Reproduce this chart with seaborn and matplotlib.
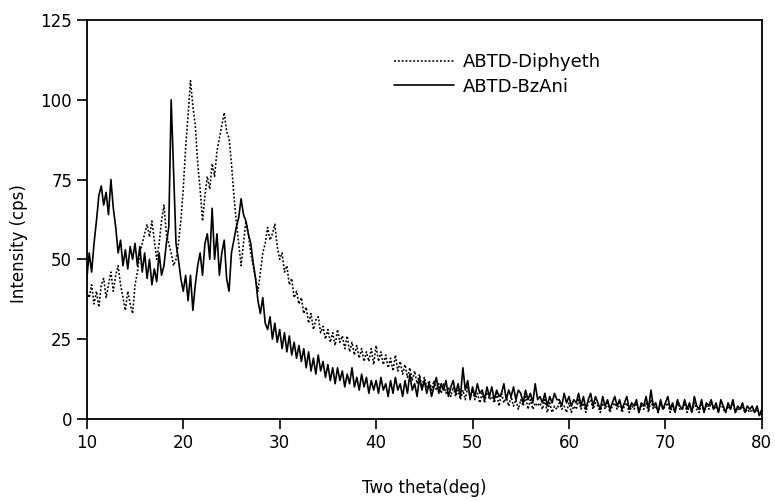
import numpy as np
import pandas as pd
import matplotlib
matplotlib.use("Agg")
import matplotlib.pyplot as plt
import seaborn as sns

# ---- data (step 0.25 deg, 10..80) ----
two_theta_start = 10.0
two_theta_step = 0.25

# ABTD-BzAni (solid), one row per degree: values at .00 .25 .50 .75
bzani_rows = [
    [44, 52, 46, 55], [62, 70, 73, 67], [71, 64, 75, 66], [60, 52, 56, 48],
    [53, 47, 54, 50], [55, 48, 54, 46], [52, 44, 50, 42], [47, 43, 52, 45],
    [48, 55, 60, 100], [78, 55, 50, 44], [40, 45, 37, 45], [34, 42, 48, 52],
    [45, 55, 58, 50], [66, 50, 58, 45], [52, 56, 44, 40], [52, 56, 60, 63],
    [69, 64, 62, 58], [55, 49, 44, 37], [33, 38, 30, 28], [32, 25, 30, 24],
    [28, 22, 27, 21], [26, 20, 24, 19], [23, 18, 22, 16], [21, 15, 19, 14],
    [20, 15, 18, 13], [17, 12, 16, 11], [16, 12, 15, 10], [14, 11, 16, 10],
    [13, 9, 14, 10], [13, 8, 12, 9], [12, 8, 13, 9], [11, 7, 12, 8],
    [13, 9, 11, 7], [12, 8, 14, 9], [11, 7, 13, 9], [12, 8, 11, 7],
    [10, 13, 8, 11], [9, 12, 7, 10], [12, 8, 11, 7], [16, 9, 12, 6],
    [10, 7, 11, 8], [9, 6, 10, 7], [10, 6, 9, 7], [8, 11, 6, 9],
    [7, 10, 6, 9], [8, 5, 9, 6], [8, 5, 11, 6], [7, 5, 8, 4],
    [7, 5, 8, 6], [6, 4, 8, 5], [7, 4, 6, 5], [8, 4, 7, 3],
    [6, 8, 4, 7], [5, 3, 7, 4], [6, 3, 5, 7], [4, 6, 3, 5],
    [7, 3, 5, 4], [6, 2, 5, 4], [7, 3, 9, 4], [5, 2, 6, 3],
    [5, 7, 3, 5], [2, 6, 4, 3], [6, 3, 5, 2], [7, 4, 3, 6],
    [2, 5, 4, 6], [3, 5, 2, 6], [4, 2, 5, 3], [6, 2, 4, 3],
    [5, 2, 4, 3], [4, 2, 4, 1], [3],
]

# ABTD-Diphyeth (dotted)
diphyeth_rows = [
    [40, 38, 42, 36], [40, 35, 42, 44], [38, 42, 46, 40], [45, 48, 42, 38],
    [34, 40, 36, 33], [42, 46, 52, 55], [58, 61, 57, 62], [56, 50, 55, 62],
    [67, 58, 55, 52], [48, 50, 55, 62], [72, 85, 95, 106], [98, 92, 80, 72],
    [62, 70, 76, 72], [80, 76, 84, 88], [92, 96, 90, 88], [80, 70, 62, 55],
    [48, 55, 62, 58], [52, 48, 44, 40], [46, 52, 55, 60], [56, 58, 61, 54],
    [50, 52, 46, 48], [42, 44, 38, 40], [36, 38, 33, 35], [30, 33, 28, 31],
    [32, 27, 29, 25], [28, 24, 27, 23], [28, 24, 26, 22], [26, 21, 24, 20],
    [23, 19, 22, 18], [21, 18, 22, 17], [23, 18, 21, 17], [20, 16, 19, 15],
    [20, 15, 18, 14], [17, 13, 16, 12], [15, 11, 14, 10], [13, 10, 12, 9],
    [12, 9, 11, 8], [11, 8, 10, 7], [10, 7, 9, 6], [9, 6, 10, 7],
    [9, 6, 8, 5], [8, 5, 9, 6], [7, 5, 8, 4], [8, 5, 7, 4],
    [7, 4, 6, 3], [6, 4, 7, 3], [6, 3, 5, 4], [5, 3, 6, 2],
    [5, 2, 4, 3], [5, 3, 4, 2], [5, 2, 4, 3], [6, 3, 5, 2],
    [5, 6, 3, 5], [4, 2, 5, 3], [5, 2, 4, 5], [3, 5, 2, 4],
    [5, 2, 4, 3], [5, 2, 4, 3], [5, 2, 6, 3], [4, 2, 5, 3],
    [4, 5, 2, 4], [2, 5, 3, 3], [5, 2, 4, 2], [5, 3, 2, 5],
    [2, 4, 3, 5], [3, 4, 2, 5], [3, 2, 4, 3], [5, 2, 3, 3],
    [4, 2, 3, 2], [3, 2, 3, 1], [2],
]

x_ticks = [10, 20, 30, 40, 50, 60, 70, 80]
y_ticks = [0, 25, 50, 75, 100, 125]

bzani = [v for row in bzani_rows for v in row]
diphyeth = [v for row in diphyeth_rows for v in row]
two_theta = [round(two_theta_start + i * two_theta_step, 2) for i in range(len(bzani))]

df_b = pd.DataFrame({"two_theta": two_theta, "intensity": bzani})
df_d = pd.DataFrame({"two_theta": two_theta, "intensity": diphyeth})

sns.set_style("ticks")
plt.rcParams["font.family"] = ["DejaVu Sans"]
plt.rcParams["text.color"] = "black"
plt.rcParams["axes.labelcolor"] = "black"
plt.rcParams["xtick.color"] = "black"
plt.rcParams["ytick.color"] = "black"

fig = plt.figure(figsize=(7.75, 5.01), dpi=100)
ax = fig.add_axes([0.112, 0.164, 0.871, 0.796])

sns.lineplot(data=df_d, x="two_theta", y="intensity", ax=ax, color="black",
             linewidth=1.15, linestyle=(0, (1.2, 1.2)), label="ABTD-Diphyeth")
sns.lineplot(data=df_b, x="two_theta", y="intensity", ax=ax, color="black",
             linewidth=1.2, linestyle="-", label="ABTD-BzAni")

ax.set_xlim(10, 80)
ax.set_ylim(0, 125)
ax.set_xticks(x_ticks)
ax.set_yticks(y_ticks)
ax.tick_params(axis="both", direction="out", length=7, width=1.2,
               labelsize=12, colors="black")
ax.tick_params(axis="x", pad=4)
for s in ax.spines.values():
    s.set_visible(True)
    s.set_linewidth(1.3)
    s.set_color("black")

ax.set_xlabel("Two theta(deg)", fontsize=12)
ax.set_ylabel("Intensity (cps)", fontsize=12)
ax.xaxis.set_label_coords(0.5, -0.15)
ax.yaxis.set_label_coords(-0.087, 0.44)

leg = ax.legend(loc="upper left", bbox_to_anchor=(0.445, 0.935), frameon=False,
                fontsize=13, handlelength=3.3, handletextpad=0.5,
                labelspacing=0.35, borderaxespad=0)
for t in leg.get_texts():
    t.set_color("black")

fig.savefig("out.png", dpi=100)
